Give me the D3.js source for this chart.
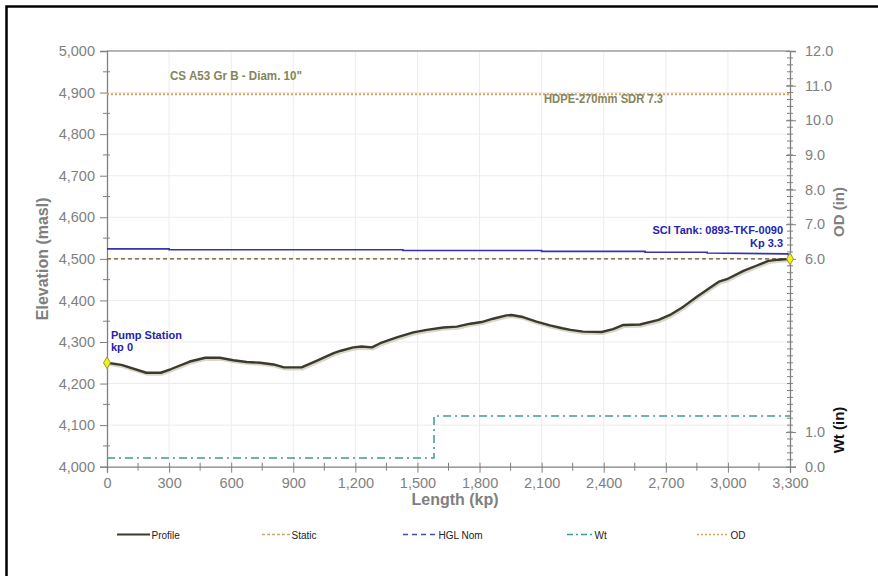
<!DOCTYPE html>
<html>
<head>
<meta charset="utf-8">
<script src="https://cdn.jsdelivr.net/npm/d3@7"></script>
<style>
  html, body { margin: 0; padding: 0; background: #ffffff; }
  svg { display: block; }
  text { font-family: "Liberation Sans", Arial, sans-serif; }
</style>
</head>
<body>
<svg id="chart" width="878" height="576"></svg>
<script>
// Pipeline profile: chainage (kp) vs. elevation (masl)
const profileKp   = [0, 70, 190, 260, 310, 400, 475, 545, 610, 675, 740, 805, 855, 940, 1015, 1095, 1130, 1190, 1230, 1280, 1320, 1400, 1480, 1545, 1625, 1690, 1755, 1810, 1865, 1930, 1955, 2010, 2075, 2140, 2200, 2240, 2300, 2390, 2445, 2495, 2575, 2665, 2720, 2785, 2850, 2915, 2960, 2995, 3075, 3140, 3195, 3245, 3300];
const profileElev = [4250, 4245, 4226, 4226, 4235, 4253, 4262, 4262, 4256, 4252, 4250, 4246, 4239, 4239, 4255, 4273, 4279, 4287, 4289, 4287, 4297, 4311, 4323, 4329, 4335, 4337, 4344, 4348, 4356, 4364, 4365, 4360, 4349, 4340, 4333, 4329, 4325, 4324, 4331, 4341, 4342, 4353, 4365, 4385, 4409, 4431, 4446, 4451, 4471, 4484, 4495, 4498, 4500];

// Nominal hydraulic grade line
const hglKp   = [0, 300, 300, 1430, 1430, 2100, 2100, 2600, 2600, 2900, 2900, 3290, 3300];
const hglElev = [4524, 4524, 4522, 4522, 4520, 4520, 4518, 4518, 4516, 4516, 4514, 4512, 4500];

// Static head
const staticKp   = [0, 3300];
const staticElev = [4500, 4500];

// Wall thickness (in) – CS 10" then HDPE SDR 7.3
const wtKp  = [0, 1580, 1580, 3300];
const wtIn  = [0.25, 0.25, 1.46, 1.46];

// Outside diameter (in)
const odKp = [0, 3300];
const odIn = [10.75, 10.75];

// Axis ticks
const xTicks = [0, 300, 600, 900, 1200, 1500, 1800, 2100, 2400, 2700, 3000, 3300];
const yTicks = [4000, 4100, 4200, 4300, 4400, 4500, 4600, 4700, 4800, 4900, 5000];
const rightTicks = [0, 1, 6, 7, 8, 9, 10, 11, 12];

// Station markers
const stationKp   = [0, 3300];
const stationElev = [4250, 4500];

const svg = d3.select("#chart");

const plotLeft = 107, plotRight = 790, plotTop = 51, plotBottom = 466.7;
const x  = d3.scaleLinear().domain([0, 3300]).range([plotLeft, plotRight]);
const y  = d3.scaleLinear().domain([4000, 5000]).range([plotBottom, plotTop]);
const y2 = d3.scaleLinear().domain([0, 12]).range([plotBottom, plotTop]);

const axisGray = "#808080";
const labelGray = "#7f7f7f";

// outer frame
svg.append("rect")
  .attr("x", 6.5).attr("y", 6.5).attr("width", 900).attr("height", 600)
  .attr("fill", "none").attr("stroke", "#000").attr("stroke-width", 2.5);

// gridlines
const grid = svg.append("g").attr("stroke", "#ececec").attr("stroke-width", 1);
grid.selectAll("line.v").data(xTicks.slice(1, -1)).join("line").attr("class", "v")
  .attr("x1", d => x(d)).attr("x2", d => x(d)).attr("y1", plotTop).attr("y2", plotBottom);
grid.selectAll("line.h").data(yTicks.slice(1, -1)).join("line").attr("class", "h")
  .attr("x1", plotLeft).attr("x2", plotRight).attr("y1", d => y(d)).attr("y2", d => y(d));

// plot top border
svg.append("line").attr("x1", plotLeft).attr("x2", plotRight).attr("y1", plotTop).attr("y2", plotTop)
  .attr("stroke", "#6e6e6e").attr("stroke-width", 1.2);

// left axis
const leftAxis = d3.axisLeft(y).tickValues(yTicks).tickFormat(d3.format(",")).tickSize(7).tickPadding(5);
const gL = svg.append("g").attr("transform", `translate(${plotLeft},0)`).call(leftAxis);
gL.select(".domain").attr("stroke", axisGray).attr("stroke-width", 1.3);
gL.selectAll(".tick line").attr("stroke", axisGray);
gL.selectAll(".tick text").attr("fill", labelGray).attr("font-size", 14.5)
  .attr("font-family", "Liberation Sans, Arial, sans-serif");
// left minor ticks
svg.append("g").selectAll("line").data(d3.range(4050, 5000, 100)).join("line")
  .attr("x1", plotLeft - 4).attr("x2", plotLeft + 3).attr("y1", d => y(d)).attr("y2", d => y(d))
  .attr("stroke", axisGray);

// bottom axis
const bottomAxis = d3.axisBottom(x).tickValues(xTicks).tickFormat(d3.format(",")).tickSize(6).tickPadding(5);
const gB = svg.append("g").attr("transform", `translate(0,${plotBottom})`).call(bottomAxis);
gB.select(".domain").attr("stroke", axisGray).attr("stroke-width", 1.3);
gB.selectAll(".tick line").attr("stroke", axisGray).attr("y1", -4);
gB.selectAll(".tick text").attr("fill", labelGray).attr("font-size", 14.5)
  .attr("font-family", "Liberation Sans, Arial, sans-serif");
svg.append("g").selectAll("line").data(d3.range(150, 3300, 300)).join("line")
  .attr("x1", d => x(d)).attr("x2", d => x(d)).attr("y1", plotBottom - 4).attr("y2", plotBottom + 4)
  .attr("stroke", axisGray);

// right axis (OD / Wt in inches)
const rightAxis = d3.axisRight(y2).tickValues(rightTicks).tickFormat(d3.format(".1f")).tickSize(6).tickPadding(9);
const gR = svg.append("g").attr("transform", `translate(${plotRight},0)`).call(rightAxis);
gR.select(".domain").attr("stroke", axisGray).attr("stroke-width", 1.3);
gR.selectAll(".tick line").attr("stroke", axisGray).attr("x1", -4);
gR.selectAll(".tick text").attr("fill", labelGray).attr("font-size", 14.5)
  .attr("font-family", "Liberation Sans, Arial, sans-serif");
svg.append("g").selectAll("line").data(d3.range(0.2, 12, 0.2)).join("line")
  .attr("x1", plotRight - 3).attr("x2", plotRight + 3).attr("y1", d => y2(d)).attr("y2", d => y2(d))
  .attr("stroke", axisGray);

// axis titles
svg.append("text").attr("transform", `translate(48,${(plotTop + plotBottom) / 2}) rotate(-90)`)
  .attr("text-anchor", "middle").attr("font-size", 16).attr("font-weight", "bold")
  .attr("fill", labelGray).text("Elevation (masl)");
svg.append("text").attr("x", 455).attr("y", 505)
  .attr("text-anchor", "middle").attr("font-size", 16).attr("font-weight", "bold")
  .attr("fill", labelGray).text("Length (kp)");
svg.append("text").attr("transform", `translate(844,212) rotate(-90)`)
  .attr("text-anchor", "middle").attr("font-size", 15).attr("font-weight", "bold")
  .attr("fill", labelGray).text("OD (in)");
svg.append("text").attr("transform", `translate(844,430) rotate(-90)`)
  .attr("text-anchor", "middle").attr("font-size", 15).attr("font-weight", "bold")
  .attr("fill", "#111").text("Wt (in)");

const line = (xs, ys, ys2) => d3.line().x((d, i) => x(xs[i])).y((d, i) => (ys2 ? y2 : y)(ys[i]));

// OD
svg.append("path").datum(odKp).attr("d", line(odKp, odIn, true))
  .attr("fill", "none").attr("stroke", "#d9a25a").attr("stroke-width", 2).attr("stroke-dasharray", "2,2");

// Wt
svg.append("path").datum(wtKp).attr("d", line(wtKp, wtIn, true))
  .attr("fill", "none").attr("stroke", "#3f9a94").attr("stroke-width", 1.5).attr("stroke-dasharray", "8,4,2,4");

// Static
svg.append("path").datum(staticKp).attr("d", line(staticKp, staticElev))
  .attr("fill", "none").attr("stroke", "#7a4d22").attr("stroke-width", 1.4).attr("stroke-dasharray", "4,3");

// HGL
svg.append("path").datum(hglKp).attr("d", line(hglKp, hglElev))
  .attr("fill", "none").attr("stroke", "#3434ad").attr("stroke-width", 1.6);

// Profile with soft shadow
svg.append("path").datum(profileKp).attr("d", line(profileKp, profileElev))
  .attr("transform", "translate(0.8,1.5)")
  .attr("fill", "none").attr("stroke", "#cfcdbd").attr("stroke-width", 3.2).attr("opacity", 0.8);
svg.append("path").datum(profileKp).attr("d", line(profileKp, profileElev))
  .attr("fill", "none").attr("stroke", "#3b3a2c").attr("stroke-width", 2.4).attr("stroke-linejoin", "round");

// station markers
svg.append("g").selectAll("path").data(stationKp).join("path")
  .attr("d", d3.symbol(d3.symbolDiamond, 40))
  .attr("transform", (d, i) => `translate(${x(d)},${y(stationElev[i])})`)
  .attr("fill", "#f2f022").attr("stroke", "#9a9a30").attr("stroke-width", 1);

// annotations
const note = "#86845a";
svg.append("text").attr("x", 170).attr("y", 80).attr("font-family", "Lato, sans-serif")
  .attr("font-size", 12).attr("font-weight", "bold").attr("fill", note)
  .attr("textLength", 132).attr("lengthAdjust", "spacingAndGlyphs")
  .text("CS A53 Gr B - Diam. 10\"");
svg.append("text").attr("x", 544).attr("y", 103).attr("font-family", "Lato, sans-serif")
  .attr("font-size", 12).attr("font-weight", "bold").attr("fill", note)
  .attr("textLength", 119).attr("lengthAdjust", "spacingAndGlyphs")
  .text("HDPE-270mm SDR 7.3");

const blue = "#2424b0";
svg.append("text").attr("x", 111).attr("y", 339).attr("font-size", 11).attr("font-weight", "bold")
  .attr("fill", blue).text("Pump Station");
svg.append("text").attr("x", 111).attr("y", 351).attr("font-size", 11).attr("font-weight", "bold")
  .attr("fill", blue).text("kp 0");
svg.append("text").attr("x", 783).attr("y", 234).attr("text-anchor", "end").attr("font-size", 11)
  .attr("font-weight", "bold").attr("fill", blue).text("SCI Tank: 0893-TKF-0090");
svg.append("text").attr("x", 783).attr("y", 246.5).attr("text-anchor", "end").attr("font-size", 11)
  .attr("font-weight", "bold").attr("fill", blue).text("Kp 3.3");

// legend
const legendItems = [
  { name: "Profile",  x0: 117, x1: 150, color: "#3b3a2c", dash: null,      w: 2 },
  { name: "Static",   x0: 262, x1: 290, color: "#c9a878", dash: "3,2",     w: 1.5 },
  { name: "HGL Nom",  x0: 403, x1: 437, color: "#4a4ab8", dash: "5,4",     w: 1.5 },
  { name: "Wt",       x0: 567, x1: 593, color: "#3f9a94", dash: "6,3,2,3", w: 1.5 },
  { name: "OD",       x0: 697, x1: 729, color: "#d9a25a", dash: "2,2",     w: 1.5 }
];
const lg = svg.append("g");
legendItems.forEach(it => {
  lg.append("line").attr("x1", it.x0).attr("x2", it.x1).attr("y1", 534.5).attr("y2", 534.5)
    .attr("stroke", it.color).attr("stroke-width", it.w)
    .attr("stroke-dasharray", it.dash);
  lg.append("text").attr("x", it.x1 + 1.5).attr("y", 538.5).attr("font-size", 10)
    .attr("fill", "#222").text(it.name);
});
</script>
</body>
</html>
